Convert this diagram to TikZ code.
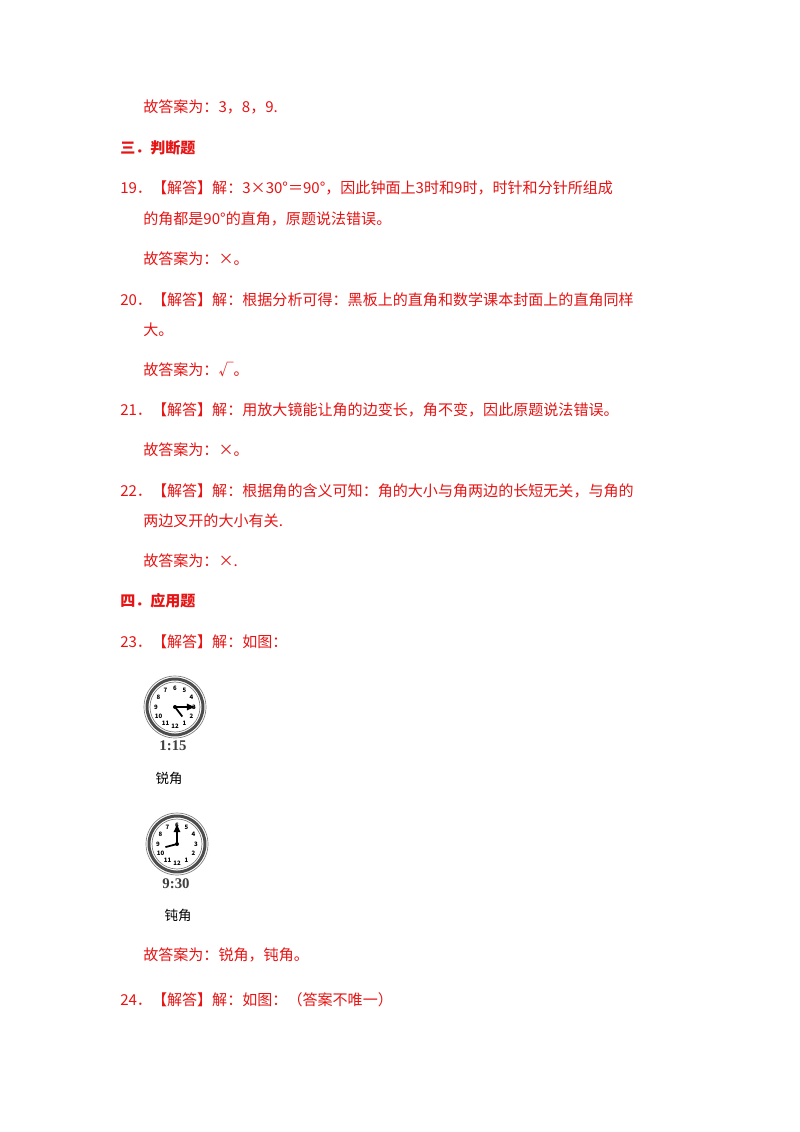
\documentclass[tikz,border=0pt]{standalone}
\usepackage{fontspec}
\setmainfont{Noto Sans CJK SC}
\newfontfamily\numfont{Liberation Serif}
\definecolor{ansred}{RGB}{230,20,20}
\begin{document}
\begin{tikzpicture}[x=0.744pt,y=-0.744pt,
  txt/.style={anchor=west,inner sep=0pt,text=ansred,font=\fontsize{11.2pt}{13pt}\selectfont},
  hd/.style={txt,font=\fontsize{11.2pt}{13pt}\selectfont\bfseries},
  capt/.style={inner sep=0pt,font=\fontsize{10pt}{12pt}\selectfont},
  lbl/.style={inner sep=0pt,font=\numfont\bfseries\fontsize{11pt}{12pt}\selectfont,text=black!75}]
\useasboundingbox[fill=white] (0,0) rectangle (800,1132);
\node[txt] (l1) at (143,107) {故答案为：3，8，9.};
\node[hd] (h3) at (120,148) {三．判断题};
\node[txt] (q19) at (120,188) {19．【解答】解：3×30°＝90°，因此钟面上3时和9时，时针和分针所组成};
\node[txt] (q19b) at (143,219) {的角都是90°的直角，原题说法错误。};
\node[txt] (a19) at (143,259) {故答案为：×。};
\node[txt] (q20) at (120,300) {20．【解答】解：根据分析可得：黑板上的直角和数学课本封面上的直角同样};
\node[txt] (q20b) at (143,330) {大。};
\node[txt] (a20) at (143,370) {故答案为：√。};
\node[txt] (q21) at (120,410) {21．【解答】解：用放大镜能让角的边变长，角不变，因此原题说法错误。};
\node[txt] (a21) at (143,450) {故答案为：×。};
\node[txt] (q22) at (120,491) {22．【解答】解：根据角的含义可知：角的大小与角两边的长短无关，与角的};
\node[txt] (q22b) at (143,521) {两边叉开的大小有关.};
\node[txt] (a22) at (143,561) {故答案为：×.};
\node[hd] (h4) at (120,601) {四．应用题};
\node[txt] (q23) at (120,642) {23．【解答】解：如图：};
\foreach \cx/\cy/\ha/\ma in {175/707/52.5/0, 177/844/165/270}{
  \begin{scope}[shift={(\cx,\cy)}]
    \draw[black!70,line width=2.2pt] (0,0) circle (28);
    \draw[black!50,line width=0.5pt] (0,0) circle (31);
    \draw[black!50,line width=0.5pt] (0,0) circle (25);
    \foreach \n in {1,...,12}
      \node[inner sep=0pt,font=\bfseries\fontsize{4.5pt}{5pt}\selectfont] at ({90-30*\n}:{19}) {\n};
    \draw[line width=1.3pt] (0,0) -- (\ha:12);
    \draw[line width=1.3pt,-latex] (0,0) -- (\ma:21);
    \fill (0,0) circle (2);
  \end{scope}}
\node[lbl] (t1) at (173,746) {1:15};
\node[capt] (r1) at (169,778) {锐角};
\node[lbl] (t2) at (176,884) {9:30};
\node[capt] (r2) at (178,915) {钝角};
\node[txt] (a23) at (143,955) {故答案为：锐角，钝角。};
\node[txt] (q24) at (120,1000) {24．【解答】解：如图：（答案不唯一）};
\end{tikzpicture}
\end{document}
